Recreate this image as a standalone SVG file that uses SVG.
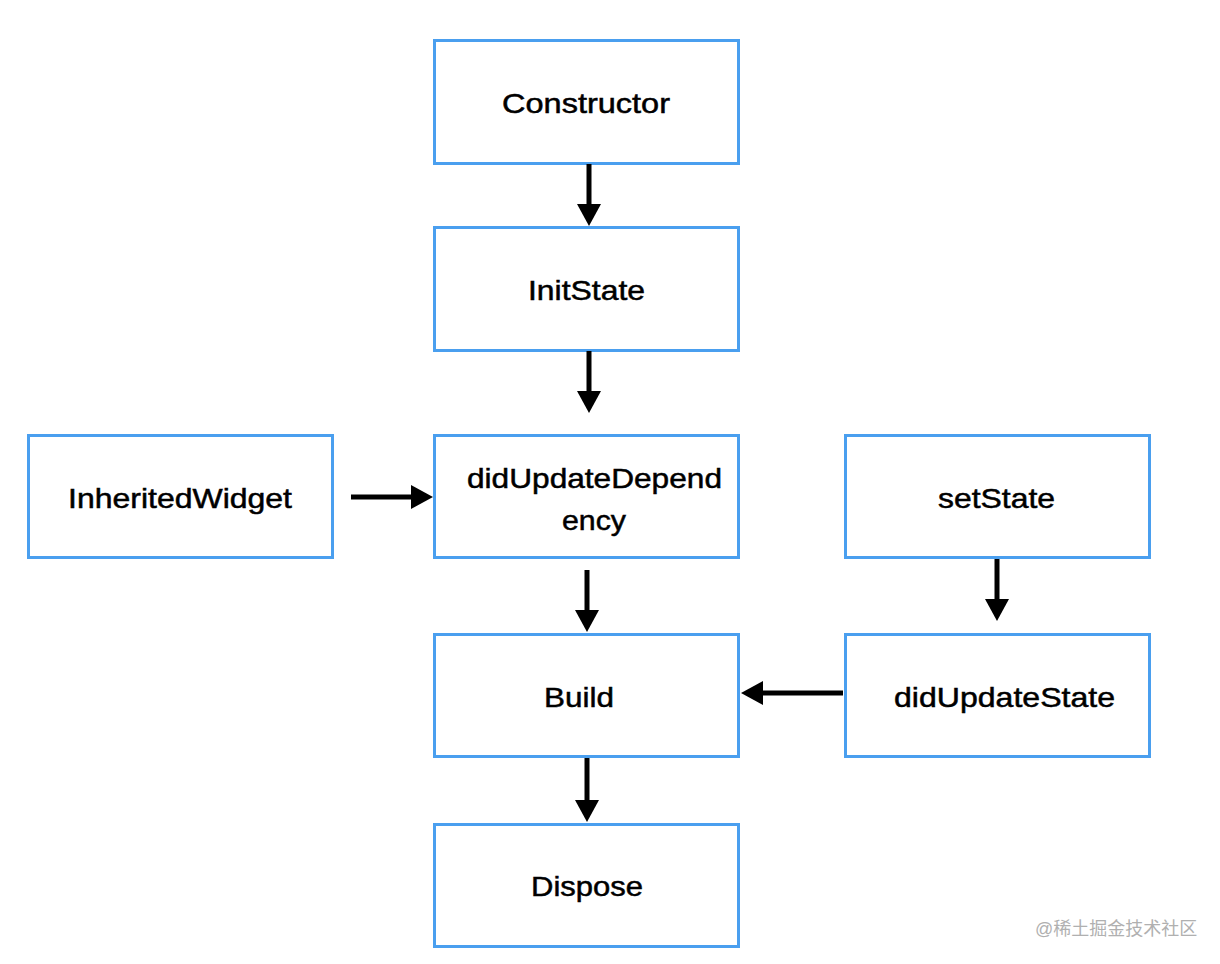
<svg xmlns="http://www.w3.org/2000/svg" width="1220" height="964" viewBox="0 0 1220 964">
<style>
.box{fill:#fff;stroke:#4A9FEF;stroke-width:3}
.lbl{font-family:"Liberation Sans",Arial,sans-serif;font-size:28px;fill:#000;stroke:#000;stroke-width:0.5}
.edge{stroke:#000;stroke-width:5;fill:none}
.wm{font-family:"Liberation Sans","Noto Sans CJK SC",sans-serif;font-size:18px;fill:#b0b0b0}
</style>
<defs>
<marker id="ah" markerUnits="userSpaceOnUse" markerWidth="24" markerHeight="24" refX="10" refY="12" orient="auto">
<path d="M0,0 L22,12 L0,24 Z" fill="#000"/>
</marker>
</defs>
<rect width="1220" height="964" fill="#fff"/>
<g id="constructor"><rect class="box" x="434.5" y="40.5" width="304" height="123"/><text class="lbl" x="502" y="113" textLength="168" lengthAdjust="spacingAndGlyphs">Constructor</text></g>
<g id="initstate"><rect class="box" x="434.5" y="227.5" width="304" height="123"/><text class="lbl" x="528" y="300" textLength="117" lengthAdjust="spacingAndGlyphs">InitState</text></g>
<g id="didupdatedependency"><rect class="box" x="434.5" y="435.5" width="304" height="122"/><text class="lbl" x="467" y="488" textLength="255" lengthAdjust="spacingAndGlyphs">didUpdateDepend</text><text class="lbl" x="562" y="530" textLength="64" lengthAdjust="spacingAndGlyphs">ency</text></g>
<g id="inheritedwidget"><rect class="box" x="28.5" y="435.5" width="304" height="122"/><text class="lbl" x="68" y="508" textLength="224" lengthAdjust="spacingAndGlyphs">InheritedWidget</text></g>
<g id="setstate"><rect class="box" x="845.5" y="435.5" width="304" height="122"/><text class="lbl" x="938" y="508" textLength="117" lengthAdjust="spacingAndGlyphs">setState</text></g>
<g id="build"><rect class="box" x="434.5" y="634.5" width="304" height="122"/><text class="lbl" x="544" y="707" textLength="70" lengthAdjust="spacingAndGlyphs">Build</text></g>
<g id="didupdatestate"><rect class="box" x="845.5" y="634.5" width="304" height="122"/><text class="lbl" x="894" y="707" textLength="221" lengthAdjust="spacingAndGlyphs">didUpdateState</text></g>
<g id="dispose"><rect class="box" x="434.5" y="824.5" width="304" height="122"/><text class="lbl" x="531" y="896" textLength="112" lengthAdjust="spacingAndGlyphs">Dispose</text></g>
<g id="connectors">
<line class="edge" x1="589" y1="164" x2="589" y2="214" marker-end="url(#ah)"/>
<line class="edge" x1="589" y1="351" x2="589" y2="401" marker-end="url(#ah)"/>
<line class="edge" x1="351" y1="497" x2="421" y2="497" marker-end="url(#ah)"/>
<line class="edge" x1="587" y1="570" x2="587" y2="620" marker-end="url(#ah)"/>
<line class="edge" x1="587" y1="758" x2="587" y2="810" marker-end="url(#ah)"/>
<line class="edge" x1="997" y1="559" x2="997" y2="609" marker-end="url(#ah)"/>
<line class="edge" x1="843" y1="693" x2="753" y2="693" marker-end="url(#ah)"/>
</g>
<text class="wm" x="1035" y="935">@稀土掘金技术社区</text>
</svg>
